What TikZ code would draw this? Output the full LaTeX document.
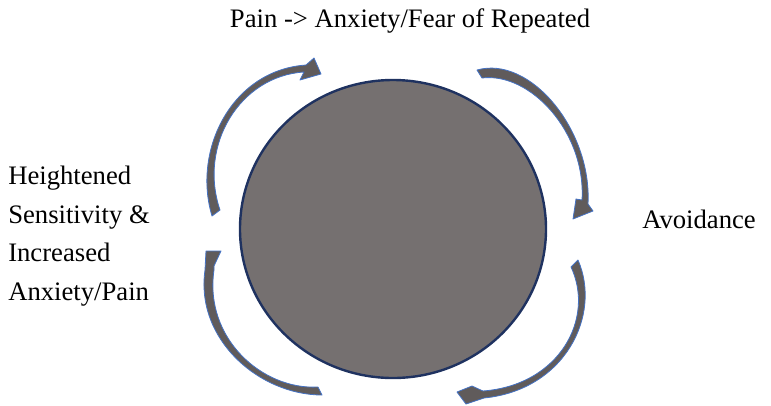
\documentclass[tikz,border=0pt]{standalone}
\usepackage{fontspec}
\setmainfont{Liberation Serif}
\usepackage{tikz}
\usetikzlibrary{shapes.geometric}
\usepackage{xcolor}
\definecolor{cyclegray}{RGB}{117,112,112}
\definecolor{cyclenavy}{RGB}{31,50,96}
\definecolor{bandgray}{RGB}{96,91,91}
\definecolor{bandblue}{RGB}{68,114,196}

\begin{document}
\begin{tikzpicture}[x=0.75pt, y=-0.75pt,
    lbl/.style={inner sep=0pt, font=\rmfamily\fontsize{20}{28.9}\selectfont, align=left},
    band/.style={fill=bandgray, draw=bandblue, line width=0.6pt, line join=round}
]
\useasboundingbox (0,0) rectangle (771,405);

% Centre disc
\node[ellipse, fill=cyclegray, draw=cyclenavy, line width=1.8pt,
      minimum width=229.5pt, minimum height=223.5pt] (core) at (393,229) {};

% Labels
\node[lbl, anchor=base] (pain) at (410,27) {Pain -> Anxiety/Fear of Repeated};
\node[lbl, anchor=base west] (avoid) at (642,228) {Avoidance};
\node[lbl, anchor=north west] (sens) at (8,166) {Heightened\\Sensitivity \&\\Increased\\Anxiety/Pain};

% Curved arrows
% top left
\fill[band] (212,216) .. controls (192,150) and (232,70) .. (306,65)
    -- (314,58) -- (321,74) -- (300,80) -- (304,72)
    .. controls (240,76) and (198,145) .. (220,210) -- cycle;
% top right
\fill[band] (477,70) .. controls (530,55) and (592,130) .. (588,204)
    -- (593,211) -- (573,219) -- (576,199) -- (582,200)
    .. controls (586,132) and (530,72) .. (482,78) -- cycle;
% bottom right
\fill[band] (578,260) .. controls (602,315) and (565,390) .. (484,398)
    -- (466,404) -- (457,392) -- (472,386) -- (483,391)
    .. controls (560,385) and (595,318) .. (571,267) -- cycle;
% bottom left
\fill[band] (322,395) .. controls (260,395) and (195,340) .. (205,270)
    -- (206,251) -- (221,251) -- (214,266) -- (214,270)
    .. controls (204,338) and (262,390) .. (318,387) -- cycle;

\end{tikzpicture}
\end{document}
